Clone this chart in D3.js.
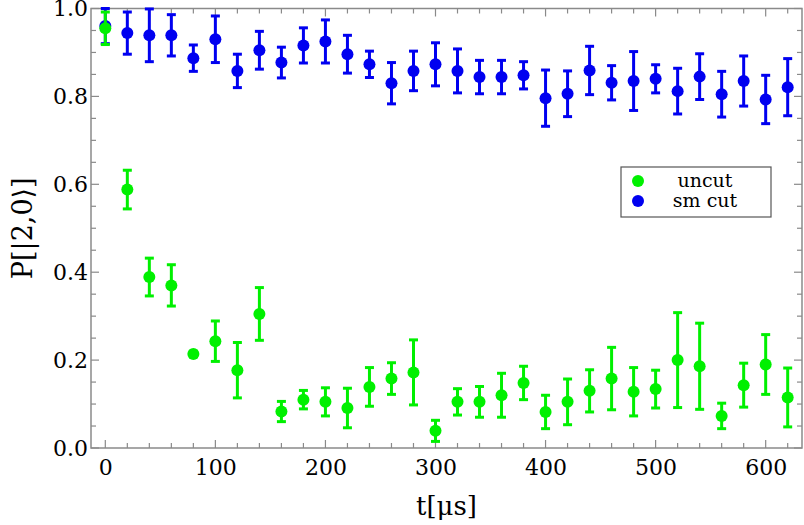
<!DOCTYPE html>
<html>
<head>
<meta charset="utf-8">
<script src="https://cdn.jsdelivr.net/npm/d3@7"></script>
<style>
  html, body { margin: 0; padding: 0; background: #fff; }
  svg { display: block; }
</style>
</head>
<body>
<svg id="chart" width="804" height="525"></svg>
<script>
// ---- data ----
const times = [0,20,40,60,80,100,120,140,160,180,200,220,240,260,280,300,320,340,360,380,400,420,440,460,480,500,520,540,560,580,600,620];
const uncutValues = [0.955,0.588,0.389,0.370,0.214,0.243,0.177,0.305,0.083,0.110,0.105,0.091,0.139,0.158,0.172,0.039,0.105,0.105,0.120,0.148,0.082,0.105,0.130,0.158,0.128,0.134,0.200,0.186,0.073,0.143,0.190,0.115];
const uncutErrors = [0.037,0.044,0.043,0.047,0.006,0.046,0.063,0.060,0.023,0.021,0.032,0.045,0.044,0.036,0.074,0.024,0.030,0.035,0.050,0.038,0.038,0.052,0.048,0.071,0.055,0.043,0.108,0.098,0.029,0.050,0.068,0.067];
const smCutValues = [0.960,0.944,0.939,0.939,0.887,0.930,0.858,0.905,0.877,0.916,0.925,0.896,0.873,0.830,0.858,0.873,0.858,0.844,0.844,0.848,0.796,0.806,0.859,0.831,0.835,0.840,0.812,0.845,0.805,0.835,0.793,0.821];
const smCutErrors = [0.040,0.048,0.060,0.047,0.030,0.053,0.038,0.043,0.035,0.040,0.049,0.043,0.030,0.047,0.045,0.049,0.050,0.038,0.038,0.031,0.064,0.052,0.055,0.039,0.067,0.032,0.052,0.052,0.052,0.057,0.055,0.065];
const xTickValues = [0,100,200,300,400,500,600];
const yTickValues = [0.0,0.2,0.4,0.6,0.8,1.0];
const seriesNames = ["uncut", "sm cut"];
const seriesColors = ["#00f000", "#0000f0"];
const xTitle = "t[\u03bcs]";
const yTitle = "P[|2,0\u27e9]";

// ---- layout ----
const FONT = '"DejaVu Serif"';
const svg = d3.select("#chart");
const L = 91, R = 802, T = 8.5, B = 448;
const x = d3.scaleLinear().domain([-13, 633]).range([L, R]);
const y = d3.scaleLinear().domain([0, 1]).range([B, T]);
const axisColor = "#8a8a8a";

// frame
svg.append("rect").attr("x", L).attr("y", T).attr("width", R - L).attr("height", B - T)
  .attr("fill", "none").attr("stroke", axisColor).attr("stroke-width", 1.5);

const xMinor = d3.range(0, 621, 20);
const yMinor = d3.range(0, 1.0001, 0.05);
const isMajorX = v => v % 100 === 0;
const isMajorY = v => Math.abs(v * 5 - Math.round(v * 5)) < 1e-6;

const ticks = svg.append("g").attr("stroke", axisColor).attr("stroke-width", 1.2);
xMinor.forEach(v => {
  const len = isMajorX(v) ? 8 : 5;
  ticks.append("line").attr("x1", x(v)).attr("x2", x(v)).attr("y1", B).attr("y2", B - len);
  ticks.append("line").attr("x1", x(v)).attr("x2", x(v)).attr("y1", T).attr("y2", T + len);
});
yMinor.forEach(v => {
  const len = isMajorY(v) ? 8 : 5;
  ticks.append("line").attr("y1", y(v)).attr("y2", y(v)).attr("x1", L).attr("x2", L + len);
  ticks.append("line").attr("y1", y(v)).attr("y2", y(v)).attr("x1", R).attr("x2", R - len);
});

// tick labels via d3 axes
const xAxis = d3.axisBottom(x).tickValues(xTickValues).tickSize(0).tickPadding(11).tickFormat(d3.format("d"));
const gx = svg.append("g").attr("transform", `translate(0,${B})`).call(xAxis)
  .attr("font-family", FONT).attr("font-size", 22);
gx.select(".domain").remove();
gx.selectAll("text").attr("fill", "#000");

const yAxis = d3.axisLeft(y).tickValues(yTickValues).tickSize(0).tickPadding(3).tickFormat(d3.format(".1f"));
const gy = svg.append("g").attr("transform", `translate(${L},0)`).call(yAxis)
  .attr("font-family", FONT).attr("font-size", 22);
gy.select(".domain").remove();
gy.selectAll("text").attr("fill", "#000");

// axis titles
svg.append("text").attr("x", (L + R) / 2).attr("y", 515).attr("text-anchor", "middle")
  .attr("font-family", FONT).attr("font-size", 26).text(xTitle);
svg.append("text").attr("transform", `translate(32,${(T + B) / 2}) rotate(-90)`)
  .attr("font-family", FONT).attr("text-anchor", "middle").attr("font-size", 27).text(yTitle);

// series (blue drawn first, green on top)
function drawSeries(values, errors, color) {
  const g = svg.append("g");
  const pts = times.map((t, i) => ({ t, v: values[i], e: errors[i] }));
  const cap = 4.5;
  const top = d => y(Math.min(1.0, d.v + d.e));
  const eb = g.selectAll("g.eb").data(pts).enter().append("g")
    .attr("stroke", color).attr("stroke-width", 3);
  eb.append("line").attr("x1", d => x(d.t)).attr("x2", d => x(d.t))
    .attr("y1", top).attr("y2", d => y(d.v - d.e));
  eb.append("line").attr("x1", d => x(d.t) - cap).attr("x2", d => x(d.t) + cap)
    .attr("y1", top).attr("y2", top);
  eb.append("line").attr("x1", d => x(d.t) - cap).attr("x2", d => x(d.t) + cap)
    .attr("y1", d => y(d.v - d.e)).attr("y2", d => y(d.v - d.e));
  g.selectAll("circle").data(pts).enter().append("circle")
    .attr("cx", d => x(d.t)).attr("cy", d => y(d.v)).attr("r", 6).attr("fill", color);
}
drawSeries(smCutValues, smCutErrors, seriesColors[1]);
drawSeries(uncutValues, uncutErrors, seriesColors[0]);

// legend
const lg = svg.append("g");
lg.append("rect").attr("x", 621).attr("y", 167).attr("width", 150).attr("height", 50)
  .attr("fill", "#fff").attr("stroke", "#555").attr("stroke-width", 1.2);
seriesNames.forEach((name, i) => {
  lg.append("circle").attr("cx", 638).attr("cy", 181 + i * 20).attr("r", 6).attr("fill", seriesColors[i]);
  lg.append("text").attr("x", 705).attr("y", 187 + i * 20).attr("text-anchor", "middle")
    .attr("font-family", FONT).attr("font-size", 19).text(name);
});
</script>
</body>
</html>
